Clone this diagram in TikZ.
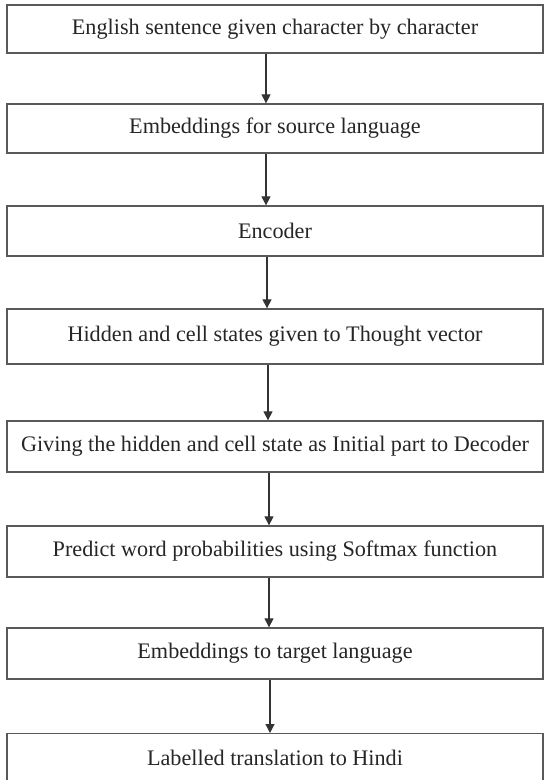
\documentclass[tikz,border=0pt]{standalone}
\usepackage{fontspec}
\setmainfont{Liberation Serif}
\usetikzlibrary{arrows.meta}
\begin{document}
\begin{tikzpicture}[x=1pt,y=-1pt,
  stagebox/.style={draw=black!65, line width=1.3pt, fill=white,
    minimum width=536pt, inner sep=0pt, font=\fontsize{22.2}{25}\selectfont,
    text=black!85},
  flow/.style={draw=black!80, line width=1.1pt,
    -{Triangle[length=9pt,width=9pt]}}]
  \useasboundingbox (0,0) rectangle (545,780);
  \clip (0,0) rectangle (545,780);
  \fill[white] (0,0) rectangle (545,780);

  \node[stagebox, minimum height=48pt] (s1) at (275,29)  {English sentence given character by character};
  \node[stagebox, minimum height=49pt] (s2) at (275,128.5) {Embeddings for source language};
  \node[stagebox, minimum height=50pt] (s3) at (275,231) {Encoder};
  \node[stagebox, minimum height=55pt] (s4) at (275,336.5) {Hidden and cell states given to Thought vector};
  \node[stagebox, minimum height=51pt] (s5) at (275,446.5) {Giving the hidden and cell state as Initial part to Decoder};
  \node[stagebox, minimum height=51pt] (s6) at (275,551.5) {Predict word probabilities using Softmax function};
  \node[stagebox, minimum height=51pt] (s7) at (275,653.5) {Embeddings to target language};
  \node[stagebox, minimum height=52pt, anchor=north] (s8) at (275,733) {};
  \node[font=\fontsize{22.2}{25}\selectfont, text=black!85] (t8) at (275,758) {Labelled translation to Hindi};

  % x positions of the connectors
  \coordinate (c1) at (266,0);
  \coordinate (c2) at (266,0);
  \coordinate (c3) at (267,0);
  \coordinate (c4) at (268,0);
  \coordinate (c5) at (269,0);
  \coordinate (c6) at (269,0);
  \coordinate (c7) at (270,0);

  \draw[flow] (s1.south -| c1) -- (s2.north -| c1);
  \draw[flow] (s2.south -| c2) -- (s3.north -| c2);
  \draw[flow] (s3.south -| c3) -- (s4.north -| c3);
  \draw[flow] (s4.south -| c4) -- (s5.north -| c4);
  \draw[flow] (s5.south -| c5) -- (s6.north -| c5);
  \draw[flow] (s6.south -| c6) -- (s7.north -| c6);
  \draw[flow] (s7.south -| c7) -- (s8.north -| c7);
\end{tikzpicture}
\end{document}
